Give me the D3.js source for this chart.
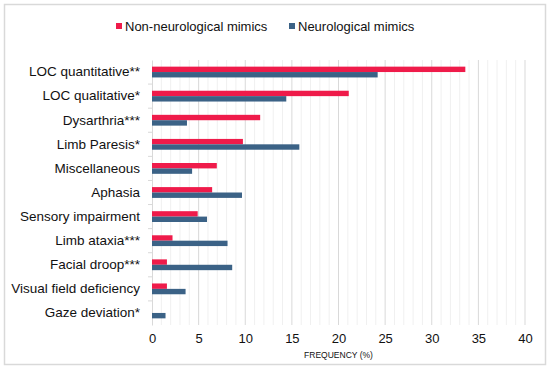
<!DOCTYPE html>
<html lang="en">
<head>
<meta charset="UTF-8">
<title>Mimics frequency chart</title>
<script src="https://d3js.org/d3.v7.min.js"></script>
<style>
  body { margin: 0; background: #fff; }
  text { font-family: "Liberation Sans", Arial, sans-serif; fill: #111; }
</style>
</head>
<body>
<div id="chart"></div>
<script>
// data
const categories = ["LOC quantitative**", "LOC qualitative*", "Dysarthria***", "Limb Paresis*",
  "Miscellaneous", "Aphasia", "Sensory impairment", "Limb ataxia***", "Facial droop***",
  "Visual field deficiency", "Gaze deviation*"];
const nonNeuro = [33.6, 21.1, 11.6, 9.75, 6.95, 6.45, 4.9, 2.2, 1.6, 1.6, 0];
const neuro = [24.2, 14.4, 3.75, 15.8, 4.3, 9.65, 5.9, 8.1, 8.6, 3.6, 1.45];
const seriesNames = ["Non-neurological mimics", "Neurological mimics"];
const colors = ["#ef1b4a", "#3b6286"];
const xTicks = [0, 5, 10, 15, 20, 25, 30, 35, 40];

const W = 550, H = 371;
const m = { top: 60, left: 152, right: 25, bottom: 46 };

const svg = d3.select("#chart").append("svg")
  .attr("width", W).attr("height", H);

// outer frame
svg.append("rect")
  .attr("x", 4.5).attr("y", 4.5)
  .attr("width", 541).attr("height", 360)
  .attr("fill", "none").attr("stroke", "#d9d9d9").attr("stroke-width", 1.5);

const x = d3.scaleLinear().domain([0, 40]).range([m.left, W - m.right]);
const y = d3.scaleBand().domain(categories).range([m.top, H - m.bottom]);
const sub = d3.scaleBand().domain([0, 1]).range([y.bandwidth() / 2 - 5.4, y.bandwidth() / 2 + 5.4]);

// minor grid every 1, major every 5
svg.append("g").selectAll("line")
  .data(d3.range(1, 41).filter(v => v % 5 !== 0))
  .join("line")
  .attr("x1", d => x(d)).attr("x2", d => x(d))
  .attr("y1", m.top).attr("y2", H - m.bottom)
  .attr("stroke", "#f0f0f0").attr("stroke-width", 1);

svg.append("g").selectAll("line")
  .data(xTicks.slice(1))
  .join("line")
  .attr("x1", d => x(d)).attr("x2", d => x(d))
  .attr("y1", m.top).attr("y2", H - m.bottom)
  .attr("stroke", "#d9d9d9").attr("stroke-width", 1);

// y axis
const yAxis = svg.append("g")
  .attr("transform", `translate(${m.left},0)`)
  .call(d3.axisLeft(y).tickSize(0).tickPadding(12));
yAxis.select(".domain").attr("stroke", "#d9d9d9");
yAxis.selectAll("text").attr("font-size", 13.5).attr("fill", "#111")
  .attr("font-family", "Liberation Sans, Arial, sans-serif");

// small tick marks between categories
svg.append("g").selectAll("line")
  .data(categories.slice(1))
  .join("line")
  .attr("x1", m.left - 4).attr("x2", m.left)
  .attr("y1", d => y(d)).attr("y2", d => y(d))
  .attr("stroke", "#d9d9d9");

// bars
const groups = svg.append("g").selectAll("g")
  .data(categories)
  .join("g")
  .attr("transform", d => `translate(0,${y(d)})`);

groups.selectAll("rect")
  .data((d, i) => [nonNeuro[i], neuro[i]])
  .join("rect")
  .attr("x", x(0))
  .attr("y", (d, j) => sub(j))
  .attr("width", d => x(d) - x(0))
  .attr("height", sub.bandwidth())
  .attr("fill", (d, j) => colors[j]);

// x axis
const xAxis = svg.append("g")
  .attr("transform", `translate(0,${H - m.bottom})`)
  .call(d3.axisBottom(x).tickValues(xTicks).tickSize(0).tickPadding(9));
xAxis.select(".domain").remove();
xAxis.selectAll("text").attr("font-size", 13).attr("fill", "#111")
  .attr("font-family", "Liberation Sans, Arial, sans-serif");

svg.append("text")
  .attr("x", x(20)).attr("y", 358)
  .attr("text-anchor", "middle")
  .attr("font-size", 8.5)
  .text("FREQUENCY (%)");

// legend
const legX = [116, 289];
const leg = svg.append("g").selectAll("g")
  .data(seriesNames)
  .join("g")
  .attr("transform", (d, i) => `translate(${legX[i]},23)`);
leg.append("rect").attr("width", 6).attr("height", 6)
  .attr("fill", (d, i) => colors[i]);
leg.append("text").attr("x", 9).attr("y", 7.5)
  .attr("font-size", 13).text(d => d);
</script>
</body>
</html>
